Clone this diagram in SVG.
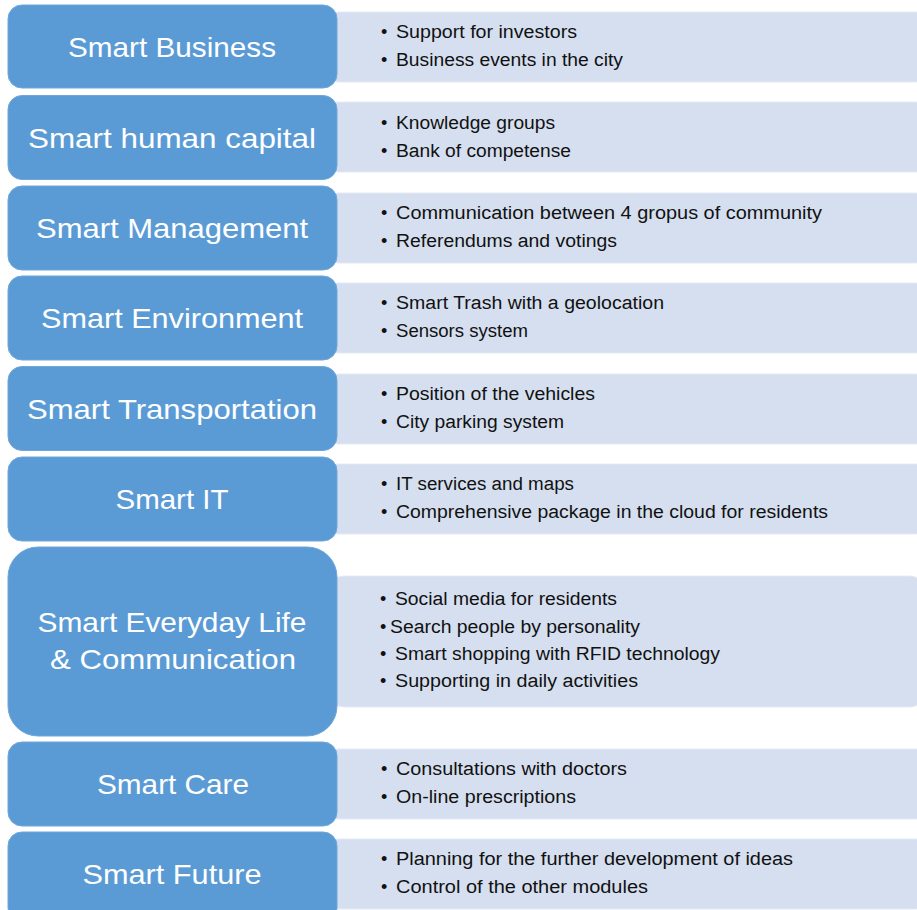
<svg xmlns="http://www.w3.org/2000/svg" width="917" height="910" viewBox="0 0 917 910">
<style>
.bg{fill:#ffffff}
.blue{fill:#5B9BD5;stroke:#6FA7DA;stroke-width:1}
.panel{fill:#D5DFEF;stroke:#E4EAF4;stroke-width:1}
.title{font-family:"Liberation Sans","Open Sans",sans-serif;font-size:28px;fill:#ffffff;text-anchor:middle;dominant-baseline:central}
.item{font-family:"Liberation Sans","Open Sans",sans-serif;font-size:18px;fill:#111111;dominant-baseline:central}
</style>
<rect class="bg" x="0" y="0" width="917" height="910"/>
<g id="row-business">
<rect class="panel" x="330" y="12" width="594" height="70" rx="8"/>
<rect class="blue" x="8" y="5" width="329" height="83" rx="14"/>
<text class="title" x="172" y="47" textLength="208" lengthAdjust="spacingAndGlyphs">Smart Business</text>
<text class="item" x="381" y="32">•</text><text class="item" x="396" y="32" textLength="181" lengthAdjust="spacingAndGlyphs">Support for investors</text>
<text class="item" x="381" y="60">•</text><text class="item" x="396" y="60" textLength="227" lengthAdjust="spacingAndGlyphs">Business events in the city</text>
</g>
<g id="row-human">
<rect class="panel" x="330" y="102" width="594" height="70" rx="8"/>
<rect class="blue" x="8" y="95.5" width="329" height="84" rx="14"/>
<text class="title" x="172" y="138" textLength="288" lengthAdjust="spacingAndGlyphs">Smart human capital</text>
<text class="item" x="381" y="123">•</text><text class="item" x="396" y="123" textLength="159" lengthAdjust="spacingAndGlyphs">Knowledge groups</text>
<text class="item" x="381" y="151">•</text><text class="item" x="396" y="151" textLength="175" lengthAdjust="spacingAndGlyphs">Bank of competense</text>
</g>
<g id="row-management">
<rect class="panel" x="330" y="193" width="594" height="70" rx="8"/>
<rect class="blue" x="8" y="186" width="329" height="84" rx="14"/>
<text class="title" x="172" y="228" textLength="272" lengthAdjust="spacingAndGlyphs">Smart Management</text>
<text class="item" x="381" y="213">•</text><text class="item" x="396" y="213" textLength="426" lengthAdjust="spacingAndGlyphs">Communication between 4 gropus of community</text>
<text class="item" x="381" y="241">•</text><text class="item" x="396" y="241" textLength="221" lengthAdjust="spacingAndGlyphs">Referendums and votings</text>
</g>
<g id="row-environment">
<rect class="panel" x="330" y="283" width="594" height="70" rx="8"/>
<rect class="blue" x="8" y="276" width="329" height="84" rx="14"/>
<text class="title" x="172" y="318" textLength="262" lengthAdjust="spacingAndGlyphs">Smart Environment</text>
<text class="item" x="381" y="303">•</text><text class="item" x="396" y="303" textLength="268" lengthAdjust="spacingAndGlyphs">Smart Trash with a geolocation</text>
<text class="item" x="381" y="331">•</text><text class="item" x="396" y="331" textLength="132" lengthAdjust="spacingAndGlyphs">Sensors system</text>
</g>
<g id="row-transportation">
<rect class="panel" x="330" y="374" width="594" height="70" rx="8"/>
<rect class="blue" x="8" y="366.5" width="329" height="84" rx="14"/>
<text class="title" x="172" y="409" textLength="290" lengthAdjust="spacingAndGlyphs">Smart Transportation</text>
<text class="item" x="381" y="394">•</text><text class="item" x="396" y="394" textLength="199" lengthAdjust="spacingAndGlyphs">Position of the vehicles</text>
<text class="item" x="381" y="422">•</text><text class="item" x="396" y="422" textLength="168" lengthAdjust="spacingAndGlyphs">City parking system</text>
</g>
<g id="row-it">
<rect class="panel" x="330" y="464" width="594" height="70" rx="8"/>
<rect class="blue" x="8" y="457" width="329" height="84" rx="14"/>
<text class="title" x="172" y="499" textLength="113" lengthAdjust="spacingAndGlyphs">Smart IT</text>
<text class="item" x="381" y="484">•</text><text class="item" x="396" y="484" textLength="178" lengthAdjust="spacingAndGlyphs">IT services and maps</text>
<text class="item" x="381" y="512">•</text><text class="item" x="396" y="512" textLength="432" lengthAdjust="spacingAndGlyphs">Comprehensive package in the cloud for residents</text>
</g>
<g id="row-everyday">
<rect class="panel" x="330" y="576" width="594" height="131" rx="14"/>
<rect class="blue" x="8" y="547" width="329" height="189" rx="30"/>
<text class="title" x="172" y="622" textLength="269" lengthAdjust="spacingAndGlyphs">Smart Everyday Life</text>
<text class="title" x="173" y="659" textLength="246" lengthAdjust="spacingAndGlyphs">&amp; Communication</text>
<text class="item" x="380" y="599">•</text><text class="item" x="395" y="599" textLength="222" lengthAdjust="spacingAndGlyphs">Social media for residents</text>
<text class="item" x="380" y="627">•</text><text class="item" x="390" y="627" textLength="250" lengthAdjust="spacingAndGlyphs">Search people by personality</text>
<text class="item" x="380" y="654">•</text><text class="item" x="395" y="654" textLength="325" lengthAdjust="spacingAndGlyphs">Smart shopping with RFID technology</text>
<text class="item" x="380" y="681">•</text><text class="item" x="395" y="681" textLength="243" lengthAdjust="spacingAndGlyphs">Supporting in daily activities</text>
</g>
<g id="row-care">
<rect class="panel" x="330" y="749" width="594" height="70" rx="8"/>
<rect class="blue" x="8" y="742" width="329" height="84" rx="14"/>
<text class="title" x="173" y="784" textLength="152" lengthAdjust="spacingAndGlyphs">Smart Care</text>
<text class="item" x="381" y="769">•</text><text class="item" x="396" y="769" textLength="231" lengthAdjust="spacingAndGlyphs">Consultations with doctors</text>
<text class="item" x="381" y="797">•</text><text class="item" x="396" y="797" textLength="180" lengthAdjust="spacingAndGlyphs">On-line prescriptions</text>
</g>
<g id="row-future">
<rect class="panel" x="330" y="839" width="594" height="70" rx="8"/>
<rect class="blue" x="8" y="832" width="329" height="90" rx="14"/>
<text class="title" x="172" y="874" textLength="179" lengthAdjust="spacingAndGlyphs">Smart Future</text>
<text class="item" x="381" y="859">•</text><text class="item" x="396" y="859" textLength="397" lengthAdjust="spacingAndGlyphs">Planning for the further development of ideas</text>
<text class="item" x="381" y="887">•</text><text class="item" x="396" y="887" textLength="252" lengthAdjust="spacingAndGlyphs">Control of the other modules</text>
</g>
</svg>
